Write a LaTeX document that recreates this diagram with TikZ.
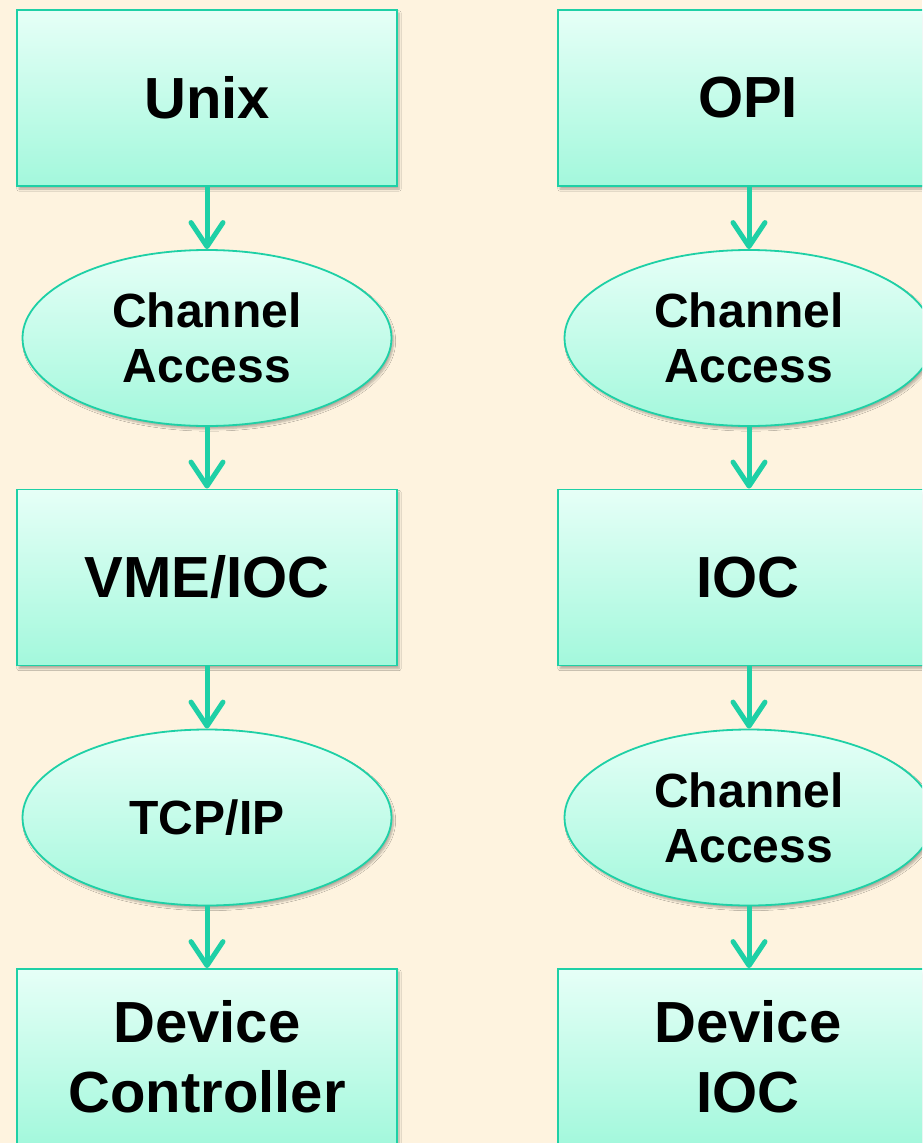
\documentclass[tikz,border=0pt]{standalone}
\usepackage{fontspec}
\setmainfont{Liberation Sans}
\usetikzlibrary{arrows.meta,shapes.geometric,shadows.blur}
\definecolor{paper}{RGB}{254,243,223}
\definecolor{mint}{RGB}{30,208,166}
\definecolor{mintTop}{RGB}{230,255,247}
\definecolor{mintBot}{RGB}{163,248,220}
\begin{document}
\begin{tikzpicture}[x=1pt,y=-1pt,
  soft/.style={blur shadow={shadow xshift=2pt, shadow yshift=-3pt, shadow opacity=30, shadow blur steps=6}},
  blk/.style={rectangle, draw=mint, line width=1.8pt, top color=mintTop, bottom color=mintBot,
    minimum width=380pt, minimum height=176pt, inner sep=0pt, align=center,
    font=\bfseries\fontsize{58}{70}\selectfont, soft},
  ell/.style={ellipse, draw=mint, line width=1.8pt, top color=mintTop, bottom color=mintBot,
    minimum width=369pt, minimum height=176pt, inner sep=0pt, align=center,
    font=\bfseries\fontsize{48}{55}\selectfont, soft},
  flow/.style={draw=mint, line width=5pt, -{Straight Barb[length=24pt,width=32pt,round]}}]
\useasboundingbox (0,0) rectangle (922,1143);
\clip (0,0) rectangle (922,1143);
\fill[paper] (0,0) rectangle (922,1143);

% left stack: Unix host talking to a VME IOC
\node[blk] (unix) at (207,98) {Unix};
\node[ell] (caL) at (207,338) {Channel\\Access};
\node[blk] (vme) at (207,577.5) {VME/IOC};
\node[ell] (tcp) at (207,817.5) {TCP/IP};
\node[blk] (devctl) at (207,1057) {Device\\Controller};

% right stack: OPI talking to an IOC and a device IOC
\node[blk] (opi) at (748,98) {OPI};
\node[ell] (caR1) at (749,338) {Channel\\Access};
\node[blk] (ioc) at (748,577.5) {IOC};
\node[ell] (caR2) at (749,817.5) {Channel\\Access};
\node[blk] (devioc) at (748,1057) {Device\\IOC};

\draw[flow] (unix.south) -- (caL.north);
\draw[flow] (caL.south) -- (vme.north);
\draw[flow] (vme.south) -- (tcp.north);
\draw[flow] (tcp.south) -- (devctl.north);

\draw[flow] (opi.south -| caR1.north) -- (caR1.north);
\draw[flow] (caR1.south) -- (ioc.north -| caR1.south);
\draw[flow] (ioc.south -| caR2.north) -- (caR2.north);
\draw[flow] (caR2.south) -- (devioc.north -| caR2.south);
\end{tikzpicture}
\end{document}
